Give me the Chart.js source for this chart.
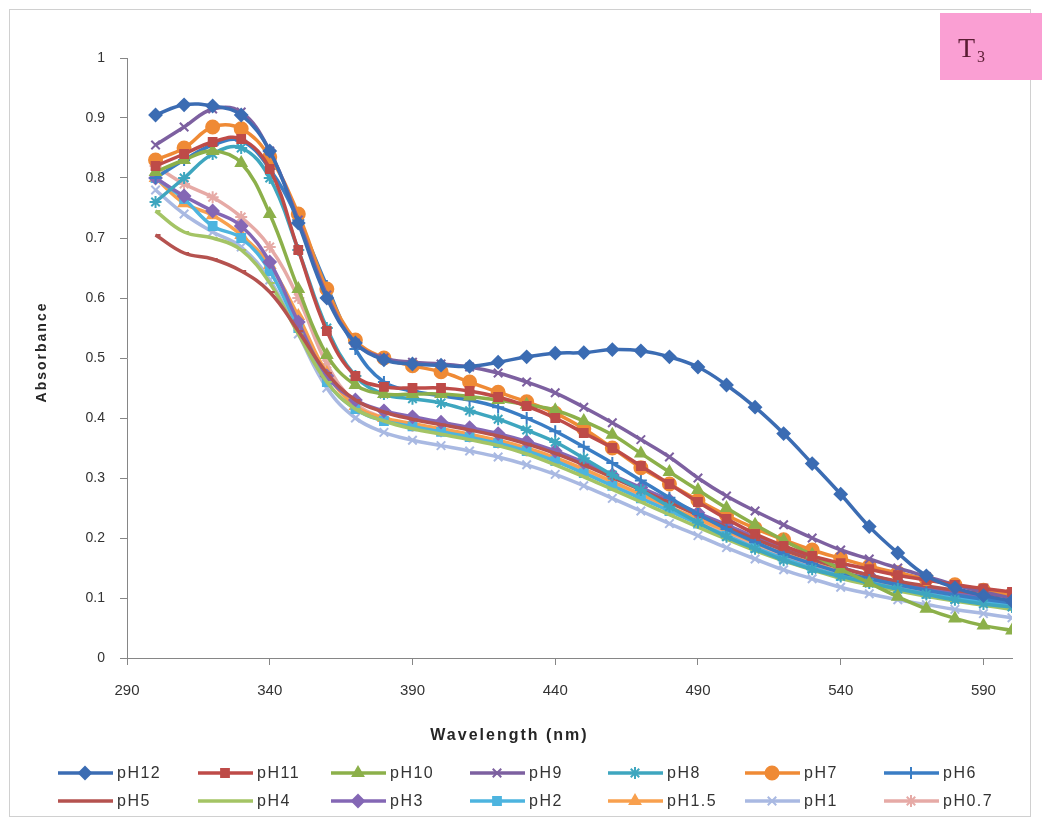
<!DOCTYPE html>
<html>
<head>
<meta charset="utf-8">
<title>Absorbance spectra T3</title>
<script src="https://cdn.jsdelivr.net/npm/chart.js@4.4.1/dist/chart.umd.min.js"></script>
<style>
  html, body { margin: 0; padding: 0; background: #ffffff; }
  canvas { display: block; }
</style>
</head>
<body>
<canvas id="spectra" width="1044" height="823"></canvas>
<script>
// Wavelengths (nm) at which each spectrum was sampled
const wavelengths = [300, 310, 320, 330, 340, 350, 360, 370, 380, 390, 400, 410, 420, 430, 440, 450,
                     460, 470, 480, 490, 500, 510, 520, 530, 540, 550, 560, 570, 580, 590, 600];

// Absorbance per pH
const pH12 = [0.905, 0.922, 0.920, 0.905, 0.845, 0.725, 0.600, 0.525, 0.497, 0.490, 0.488, 0.486, 0.493, 0.502, 0.508, 0.509,
              0.514, 0.512, 0.502, 0.485, 0.455, 0.418, 0.374, 0.324, 0.273, 0.219, 0.175, 0.137, 0.117, 0.104, 0.095];
const pH11 = [0.820, 0.840, 0.860, 0.865, 0.815, 0.680, 0.545, 0.470, 0.452, 0.450, 0.450, 0.445, 0.435, 0.420, 0.400, 0.375,
              0.350, 0.320, 0.290, 0.260, 0.232, 0.207, 0.187, 0.170, 0.158, 0.148, 0.138, 0.130, 0.122, 0.116, 0.110];
const pH10 = [0.810, 0.830, 0.845, 0.825, 0.740, 0.615, 0.505, 0.455, 0.440, 0.440, 0.440, 0.436, 0.430, 0.422, 0.413, 0.395,
              0.372, 0.341, 0.310, 0.280, 0.250, 0.222, 0.196, 0.172, 0.148, 0.125, 0.102, 0.082, 0.066, 0.054, 0.046];
const pH9  = [0.855, 0.885, 0.915, 0.910, 0.845, 0.730, 0.605, 0.525, 0.500, 0.493, 0.490, 0.485, 0.475, 0.460, 0.442, 0.418,
              0.392, 0.364, 0.335, 0.300, 0.270, 0.245, 0.222, 0.200, 0.180, 0.165, 0.150, 0.136, 0.122, 0.110, 0.100];
const pH8  = [0.760, 0.800, 0.840, 0.850, 0.800, 0.680, 0.550, 0.470, 0.440, 0.432, 0.425, 0.412, 0.398, 0.380, 0.360, 0.333,
              0.305, 0.280, 0.252, 0.226, 0.202, 0.182, 0.163, 0.148, 0.136, 0.125, 0.115, 0.106, 0.097, 0.090, 0.085];
const pH7  = [0.830, 0.850, 0.885, 0.882, 0.835, 0.740, 0.615, 0.530, 0.500, 0.487, 0.477, 0.460, 0.443, 0.427, 0.408, 0.382,
              0.350, 0.317, 0.290, 0.263, 0.238, 0.216, 0.197, 0.180, 0.166, 0.153, 0.142, 0.132, 0.122, 0.113, 0.106];
const pH6  = [0.800, 0.830, 0.855, 0.862, 0.815, 0.730, 0.620, 0.515, 0.460, 0.445, 0.437, 0.430, 0.418, 0.400, 0.378, 0.352,
              0.325, 0.296, 0.267, 0.240, 0.215, 0.193, 0.173, 0.157, 0.143, 0.132, 0.122, 0.113, 0.105, 0.098, 0.092];
const pH5  = [0.705, 0.675, 0.665, 0.645, 0.610, 0.545, 0.475, 0.430, 0.410, 0.398, 0.389, 0.380, 0.370, 0.357, 0.341, 0.322,
              0.301, 0.280, 0.259, 0.238, 0.218, 0.198, 0.180, 0.164, 0.150, 0.138, 0.128, 0.120, 0.113, 0.107, 0.102];
const pH4  = [0.745, 0.710, 0.700, 0.680, 0.625, 0.540, 0.460, 0.415, 0.395, 0.382, 0.373, 0.364, 0.354, 0.340, 0.322, 0.302,
              0.281, 0.260, 0.239, 0.218, 0.198, 0.179, 0.162, 0.147, 0.133, 0.122, 0.112, 0.103, 0.095, 0.088, 0.081];
const pH3  = [0.800, 0.770, 0.745, 0.720, 0.660, 0.560, 0.470, 0.430, 0.412, 0.402, 0.393, 0.384, 0.374, 0.361, 0.345, 0.326,
              0.305, 0.284, 0.263, 0.242, 0.222, 0.202, 0.183, 0.166, 0.151, 0.138, 0.127, 0.117, 0.109, 0.102, 0.095];
const pH2  = [0.800, 0.765, 0.720, 0.700, 0.645, 0.550, 0.460, 0.415, 0.395, 0.386, 0.377, 0.368, 0.358, 0.345, 0.328, 0.308,
              0.287, 0.266, 0.245, 0.224, 0.204, 0.184, 0.166, 0.150, 0.137, 0.126, 0.116, 0.107, 0.100, 0.094, 0.088];
const pH1_5 = [0.800, 0.758, 0.738, 0.705, 0.655, 0.570, 0.475, 0.420, 0.400, 0.391, 0.382, 0.373, 0.363, 0.350, 0.334, 0.315,
               0.294, 0.273, 0.252, 0.232, 0.212, 0.192, 0.174, 0.158, 0.144, 0.132, 0.122, 0.114, 0.107, 0.101, 0.095];
const pH1  = [0.780, 0.740, 0.710, 0.685, 0.630, 0.540, 0.450, 0.400, 0.376, 0.363, 0.354, 0.345, 0.335, 0.322, 0.306, 0.287,
              0.266, 0.245, 0.224, 0.204, 0.184, 0.165, 0.147, 0.132, 0.118, 0.107, 0.097, 0.089, 0.081, 0.074, 0.067];
const pH0_7 = [0.820, 0.790, 0.768, 0.735, 0.685, 0.600, 0.490, 0.425, 0.400, 0.387, 0.378, 0.369, 0.359, 0.346, 0.330, 0.311,
               0.290, 0.269, 0.248, 0.228, 0.208, 0.188, 0.170, 0.154, 0.140, 0.128, 0.118, 0.109, 0.101, 0.094, 0.087];

const seriesNames  = ['pH12', 'pH11', 'pH10', 'pH9', 'pH8', 'pH7', 'pH6', 'pH5', 'pH4', 'pH3', 'pH2', 'pH1.5', 'pH1', 'pH0.7'];
const seriesValues = [pH12, pH11, pH10, pH9, pH8, pH7, pH6, pH5, pH4, pH3, pH2, pH1_5, pH1, pH0_7];

// Axis tick values
const wavelengthTicks = [290, 340, 390, 440, 490, 540, 590];
const absorbanceTicks = [0, 0.1, 0.2, 0.3, 0.4, 0.5, 0.6, 0.7, 0.8, 0.9, 1];

// Series styling
const seriesColors  = ['#3b6cb3', '#be4b48', '#8cb04a', '#7d60a0', '#3ea6bf', '#ef8a35', '#3a7dc4',
                       '#b5524f', '#a4c465', '#8467b5', '#4db4df', '#f8a04e', '#a9b9e2', '#e6aaa6'];
const seriesMarkers = ['rectRot', 'rect', 'triangle', 'crossRot', 'star', 'circle', 'cross',
                       'dash', 'dash', 'rectRot', 'rect', 'triangle', 'crossRot', 'star'];
const markerRadius  = [6, 5.5, 6, 6, 6, 6.5, 6, 5, 5, 6, 5.5, 6, 6, 6];

const datasets = seriesNames.map((name, s) => ({
  label: name,
  data: seriesValues[s].map((v, i) => ({ x: wavelengths[i], y: v })),
  borderColor: seriesColors[s],
  backgroundColor: seriesColors[s],
  pointBackgroundColor: seriesColors[s],
  pointBorderColor: seriesColors[s],
  pointStyle: seriesMarkers[s],
  pointRadius: markerRadius[s],
  pointBorderWidth: 2,
  borderWidth: 3.5,
  tension: 0.4,
  fill: false
}));

const FONT = '"Liberation Sans", Arial, sans-serif';
const TEXT = '#333333';

// Page background, outer frame, axis titles, tag box and legend
const decorations = {
  id: 'decorations',
  beforeDraw(chart) {
    const ctx = chart.ctx;
    ctx.save();
    ctx.fillStyle = '#ffffff';
    ctx.fillRect(0, 0, chart.width, chart.height);
    ctx.strokeStyle = '#d0d0d0';
    ctx.lineWidth = 1;
    ctx.strokeRect(9.5, 9.5, 1021, 807);
    ctx.restore();
  },
  afterDraw(chart) {
    const ctx = chart.ctx;
    const area = chart.chartArea;
    ctx.save();

    // Axis titles
    ctx.fillStyle = '#262626';
    ctx.textAlign = 'center';
    ctx.textBaseline = 'middle';
    ctx.letterSpacing = '2px';
    ctx.font = 'bold 16px ' + FONT;
    ctx.fillText('Wavelength (nm)', (area.left + area.right) / 2 - 60, 736);
    ctx.save();
    ctx.translate(42, (area.top + area.bottom) / 2 - 6);
    ctx.rotate(-Math.PI / 2);
    ctx.font = 'bold 14px ' + FONT;
    ctx.fillText('Absorbance', 0, 0);
    ctx.restore();

    // Tag box in the upper right corner
    ctx.letterSpacing = '0px';
    ctx.fillStyle = '#fa9fd3';
    ctx.fillRect(940, 13, 102, 67);
    ctx.fillStyle = '#5a1c33';
    ctx.textAlign = 'left';
    ctx.textBaseline = 'alphabetic';
    ctx.font = '28px "Liberation Serif", "Times New Roman", serif';
    ctx.fillText('T', 958, 57);
    ctx.font = '16px "Liberation Serif", "Times New Roman", serif';
    ctx.fillText('3', 977, 62);

    // Legend: two rows of seven entries, line with marker then label
    ctx.font = '16px ' + FONT;
    ctx.letterSpacing = '1.5px';
    ctx.textBaseline = 'middle';
    const colX = [58, 198, 331, 470, 608, 745, 884];
    const rowY = [773, 801];
    chart.data.datasets.forEach((ds, i) => {
      const x0 = colX[i % 7];
      const y = rowY[Math.floor(i / 7)];
      ctx.strokeStyle = ds.borderColor;
      ctx.lineWidth = 3.5;
      ctx.beginPath();
      ctx.moveTo(x0, y);
      ctx.lineTo(x0 + 55, y);
      ctx.stroke();
      ctx.fillStyle = ds.borderColor;
      ctx.strokeStyle = ds.borderColor;
      ctx.lineWidth = 2;
      if (Chart.helpers && Chart.helpers.drawPoint) {
        Chart.helpers.drawPoint(ctx, { pointStyle: ds.pointStyle, radius: ds.pointRadius, borderWidth: 2, rotation: 0 }, x0 + 27, y);
      }
      ctx.fillStyle = TEXT;
      ctx.fillText(ds.label, x0 + 59, y + 1);
    });
    ctx.restore();
  }
};

new Chart(document.getElementById('spectra'), {
  type: 'line',
  data: { datasets },
  options: {
    responsive: false,
    animation: false,
    events: [],
    layout: { padding: { left: 0, top: 58, right: 32, bottom: 0 } },
    plugins: { legend: { display: false }, tooltip: { enabled: false } },
    scales: {
      x: {
        type: 'linear',
        min: 290,
        max: 600,
        afterBuildTicks: scale => { scale.ticks = wavelengthTicks.map(v => ({ value: v })); },
        afterFit: scale => { scale.height = 165; },
        grid: { display: true, drawOnChartArea: false, drawTicks: true, tickLength: 7, color: '#868686', tickColor: '#868686' },
        border: { display: true, color: '#868686', width: 1 },
        ticks: { color: TEXT, font: { family: FONT, size: 15 }, padding: 17, maxRotation: 0, autoSkip: false }
      },
      y: {
        min: 0,
        max: 1,
        afterBuildTicks: scale => { scale.ticks = absorbanceTicks.map(v => ({ value: v })); },
        afterFit: scale => { scale.width = 127; },
        grid: { display: true, drawOnChartArea: false, drawTicks: true, tickLength: 7, color: '#868686', tickColor: '#868686' },
        border: { display: true, color: '#868686', width: 1 },
        ticks: { color: TEXT, font: { family: FONT, size: 14 }, padding: 15, callback: v => String(+v.toFixed(1)) }
      }
    }
  },
  plugins: [decorations]
});
</script>
</body>
</html>
